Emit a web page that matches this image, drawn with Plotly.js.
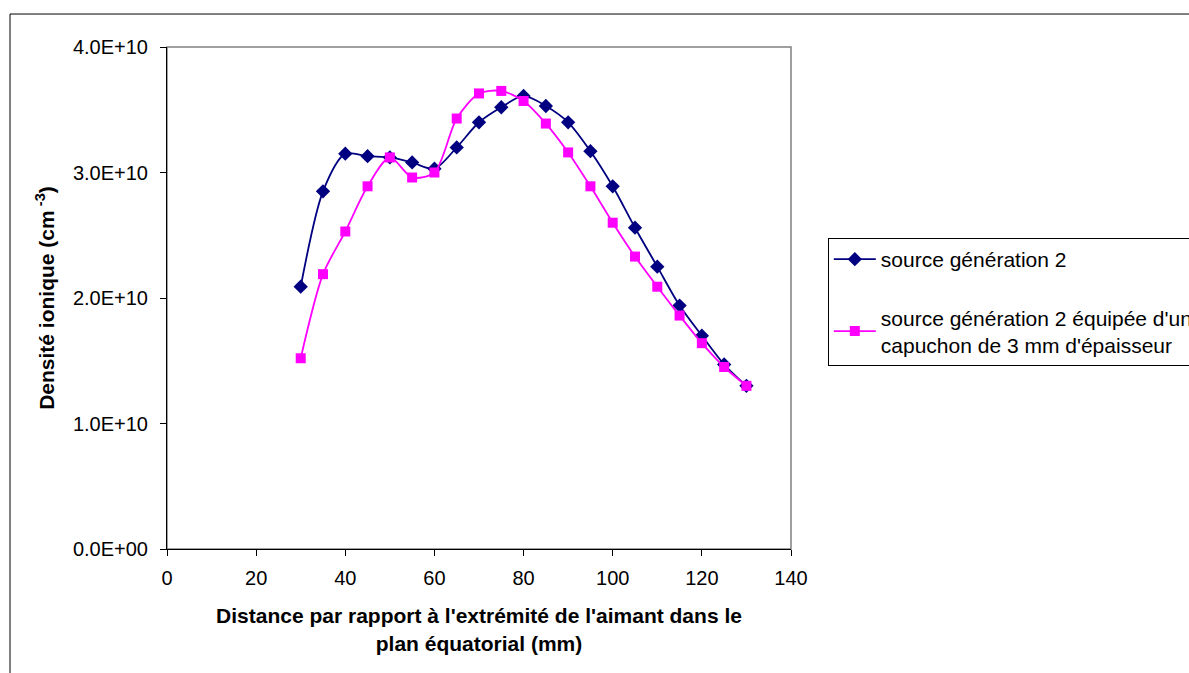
<!DOCTYPE html>
<html>
<head>
<meta charset="utf-8">
<script src="https://cdn.plot.ly/plotly-3.0.1.min.js"></script>
<style>html,body{margin:0;padding:0;background:#fff;}#chart{width:1189px;height:673px;}</style>
</head>
<body>
<div id="chart"></div>
<script>
const distances = [30,35,40,45,50,55,60,65,70,75,80,85,90,95,100,105,110,115,120,125,130];
const gen2 = [2.09e10,2.85e10,3.15e10,3.13e10,3.12e10,3.08e10,3.03e10,3.20e10,3.40e10,3.52e10,3.61e10,3.53e10,3.40e10,3.17e10,2.89e10,2.56e10,2.25e10,1.94e10,1.70e10,1.47e10,1.30e10];
const gen2Cap = [1.52e10,2.19e10,2.53e10,2.89e10,3.12e10,2.96e10,3.00e10,3.43e10,3.63e10,3.65e10,3.57e10,3.39e10,3.16e10,2.89e10,2.60e10,2.33e10,2.09e10,1.86e10,1.64e10,1.45e10,1.30e10];
const seriesNames = ["source génération 2", "source génération 2 équipée d'un<br>capuchon de 3 mm d'épaisseur"];
const xTickVals = [0,20,40,60,80,100,120,140];
const yTickVals = [0,1e10,2e10,3e10,4e10];
const yTickText = ["0.0E+00","1.0E+10","2.0E+10","3.0E+10","4.0E+10"];

const FONT = "Liberation Sans, Arial, sans-serif";

const traces = [
  {x: distances, y: gen2, name: seriesNames[0], type: 'scatter', mode: 'lines+markers',
   line: {color: '#000080', width: 1.8, shape: 'spline', smoothing: 0.8},
   marker: {symbol: 'diamond', size: 11, color: '#000080'}, legendgroup: 'a'},
  {x: distances, y: gen2Cap, name: seriesNames[1], type: 'scatter', mode: 'lines+markers',
   line: {color: '#FF00FF', width: 1.8, shape: 'spline', smoothing: 0.8},
   marker: {symbol: 'square', size: 10, color: '#FF00FF'}, legendgroup: 'b'}
];

const layout = {
  width: 1189, height: 673,
  margin: {l: 167, r: 398, t: 47, b: 124, autoexpand: false},
  paper_bgcolor: '#ffffff', plot_bgcolor: '#ffffff',
  font: {family: FONT, size: 20, color: '#000'},
  showlegend: true,
  legend: {x: 1.059, y: 0.6195, xanchor: 'left', yanchor: 'top',
    bordercolor: '#000', borderwidth: 1, bgcolor: '#fff', itemwidth: 42,
    font: {family: FONT, size: 21, color: '#000'}, tracegroupgap: 28, traceorder: 'grouped'},
  xaxis: {range: [0, 140], tickvals: xTickVals, ticks: 'outside', ticklen: 6, tickcolor: '#000',
    showline: true, linecolor: '#000', linewidth: 1, showgrid: false, zeroline: false,
    tickfont: {family: FONT, size: 20}, ticklabelstandoff: 5,
    title: {text: "<b>Distance par rapport à l'extrémité de l'aimant dans le<br>plan équatorial (mm)</b>",
      font: {family: FONT, size: 21}, standoff: 20}},
  yaxis: {range: [0, 4e10], tickvals: yTickVals, ticktext: yTickText, ticks: 'outside', ticklen: 6, tickcolor: '#000',
    showline: true, linecolor: '#000', linewidth: 1, showgrid: false, zeroline: false,
    tickfont: {family: FONT, size: 20}, ticklabelstandoff: 8,
    title: {text: "<b>Densité ionique (cm<sup> -3</sup>)</b>", font: {family: FONT, size: 21}, standoff: 12}},
  shapes: [
    {type: 'rect', xref: 'paper', yref: 'paper', x0: 0, x1: 1, y0: 0, y1: 1,
     line: {color: '#808080', width: 1.5}, layer: 'below'},
    {type: 'rect', xref: 'paper', yref: 'paper', x0: -0.2516, x1: 1.8, y0: -0.5, y1: 1.0657,
     line: {color: '#000', width: 1}, layer: 'below'}
  ]
};

Plotly.newPlot('chart', traces, layout, {displayModeBar: false, staticPlot: true});
</script>
</body>
</html>
